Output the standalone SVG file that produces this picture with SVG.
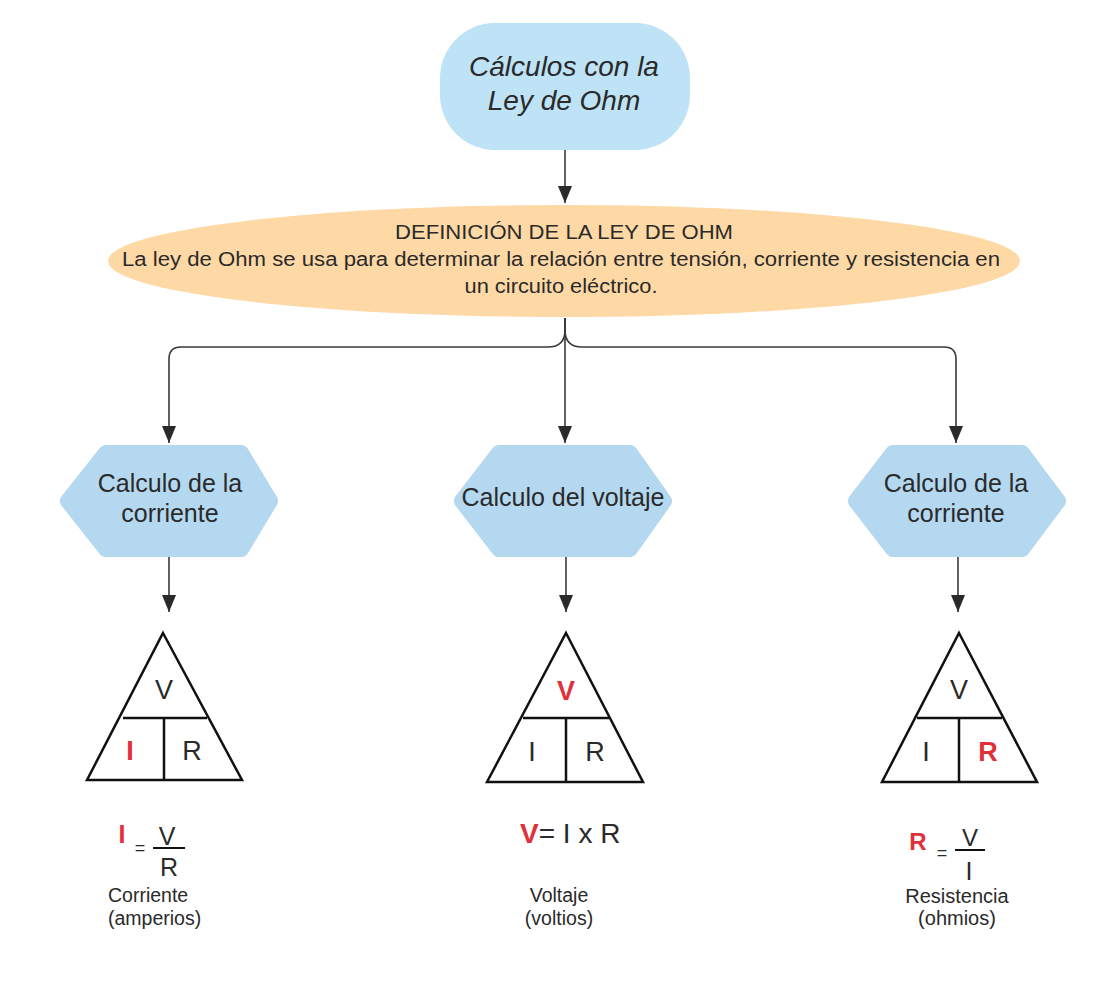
<svg xmlns="http://www.w3.org/2000/svg" width="1113" height="988" viewBox="0 0 1113 988">
<defs>
<style>
.t{font-family:"Liberation Sans",Arial,sans-serif;fill:#2a2a2a;text-anchor:middle}
.red{fill:#e0303a;font-weight:bold}
.hex{fill:#b5d8f1;stroke:#b5d8f1;stroke-width:16;stroke-linejoin:round}
.tri{fill:none;stroke:#111;stroke-width:2.5}
.con{fill:none;stroke:#3a3a3a;stroke-width:1.6}
</style>
<marker id="a" markerWidth="18" markerHeight="14" refX="17" refY="7" orient="auto" markerUnits="userSpaceOnUse">
<path d="M0,0 L17,7 L0,14 Z" fill="#2a2a2a"/>
</marker>
</defs>
<rect width="1113" height="988" fill="#ffffff"/>

<g id="connectors">
<path class="con" d="M565,150 L565,203" marker-end="url(#a)"/>
<path class="con" d="M565,318 L565,443" marker-end="url(#a)"/>
<path class="con" d="M565,318 L565,330 Q565,347 548,347 L181,347 Q169,347 169,359 L169,443" marker-end="url(#a)"/>
<path class="con" d="M565,318 L565,330 Q565,347 582,347 L944,347 Q956,347 956,359 L956,443" marker-end="url(#a)"/>
<path class="con" d="M169,557 L169,612" marker-end="url(#a)"/>
<path class="con" d="M566,557 L566,612" marker-end="url(#a)"/>
<path class="con" d="M958,557 L958,612" marker-end="url(#a)"/>
</g>

<g id="title">
<rect x="440" y="23" width="250" height="127" rx="55" fill="#bfe3f6"/>
<text class="t" x="564" y="76" font-size="28" font-style="italic">Cálculos con la</text>
<text class="t" x="564" y="110" font-size="28" font-style="italic">Ley de Ohm</text>
</g>

<g id="definicion">
<ellipse cx="564" cy="261" rx="456" ry="56" fill="#fed9a6"/>
<text class="t" x="564" y="239" font-size="20" textLength="338" lengthAdjust="spacingAndGlyphs">DEFINICIÓN DE LA LEY DE OHM</text>
<text class="t" x="561" y="266" font-size="20" textLength="878" lengthAdjust="spacingAndGlyphs">La ley de Ohm se usa para determinar la relación entre tensión, corriente y resistencia en</text>
<text class="t" x="561" y="293" font-size="20" textLength="193" lengthAdjust="spacingAndGlyphs">un circuito eléctrico.</text>
</g>

<g id="hex-corriente-1">
<polygon class="hex" points="106,453 241,453 270,501 241,549 106,549 68,501"/>
<text class="t" x="170" y="492" font-size="25">Calculo de la</text>
<text class="t" x="170" y="522" font-size="25">corriente</text>
</g>

<g id="hex-voltaje">
<polygon class="hex" points="499,453 630,453 664,501 630,549 499,549 462,501"/>
<text class="t" x="563" y="506" font-size="25">Calculo del voltaje</text>
</g>

<g id="hex-corriente-2">
<polygon class="hex" points="893,453 1022,453 1058,501 1022,549 893,549 856,501"/>
<text class="t" x="956" y="492" font-size="25">Calculo de la</text>
<text class="t" x="956" y="522" font-size="25">corriente</text>
</g>

<g id="tri-corriente">
<path class="tri" d="M163,633 L242,780 L87,780 Z M123,718 L207,718 M164,718 L164,780"/>
<text class="t" x="164" y="699" font-size="27">V</text>
<text class="t red" x="130" y="760" font-size="27">I</text>
<text class="t" x="192" y="760" font-size="27">R</text>
</g>

<g id="tri-voltaje">
<path class="tri" d="M566,633 L643,782 L487,782 Z M523,718 L609,718 M566,718 L566,782"/>
<text class="t red" x="566" y="700" font-size="27">V</text>
<text class="t" x="532" y="761" font-size="27">I</text>
<text class="t" x="595" y="761" font-size="27">R</text>
</g>

<g id="tri-resistencia">
<path class="tri" d="M959,633 L1037,782 L882,782 Z M917,718 L1002,718 M959,718 L959,782"/>
<text class="t" x="959" y="699" font-size="27">V</text>
<text class="t" x="926" y="761" font-size="27">I</text>
<text class="t red" x="988" y="761" font-size="27">R</text>
</g>

<g id="formula-corriente">
<text class="t red" x="122" y="843" font-size="25">I</text>
<text class="t" x="140" y="854" font-size="18">=</text>
<line x1="153" y1="848" x2="185" y2="848" stroke="#111" stroke-width="2"/>
<text class="t" x="167" y="845" font-size="25">V</text>
<text class="t" x="169" y="876" font-size="25">R</text>
<text x="108" y="902" font-size="19.5" font-family="Liberation Sans,Arial,sans-serif" fill="#2a2a2a">Corriente</text>
<text x="108" y="925" font-size="19.5" font-family="Liberation Sans,Arial,sans-serif" fill="#2a2a2a">(amperios)</text>
</g>

<g id="formula-voltaje">
<text x="520" y="843" font-size="28" font-family="Liberation Sans,Arial,sans-serif" fill="#2a2a2a"><tspan fill="#e0303a" font-weight="bold">V</tspan>= I x R</text>
<text class="t" x="559" y="902" font-size="19.5">Voltaje</text>
<text class="t" x="559" y="925" font-size="19.5">(voltios)</text>
</g>

<g id="formula-resistencia">
<text class="t red" x="918" y="850" font-size="24">R</text>
<text class="t" x="942" y="859" font-size="18">=</text>
<line x1="955" y1="850" x2="985" y2="850" stroke="#111" stroke-width="2"/>
<text class="t" x="970" y="846" font-size="24">V</text>
<text class="t" x="969" y="880" font-size="25">I</text>
<text class="t" x="957" y="903" font-size="20">Resistencia</text>
<text class="t" x="957" y="925" font-size="20">(ohmios)</text>
</g>
</svg>
